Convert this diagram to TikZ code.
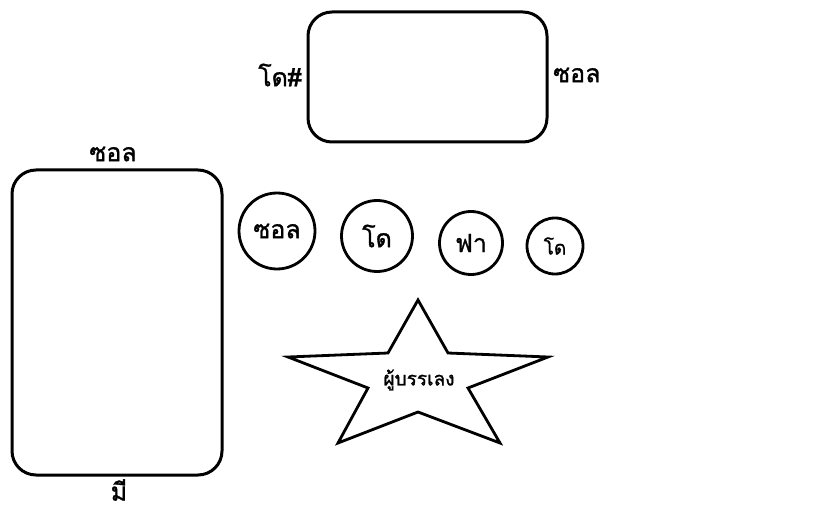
\documentclass[tikz,border=0pt]{standalone}
\usepackage{fontspec}
\newfontfamily\thaifont[Script=Thai,FakeBold=1.3]{Loma}
\begin{document}
\begin{tikzpicture}[x=1pt,y=-1pt,
  box/.style={draw,line width=3pt,rounded corners=24pt,inner sep=0pt},
  ring/.style={draw,circle,line width=2.8pt,inner sep=0pt,font=\thaifont\fontsize{25}{29}\selectfont},
  lbl/.style={inner sep=0pt,font=\thaifont\fontsize{25}{29}\selectfont}]
\useasboundingbox (0,0) rectangle (834,518);
\fill[white] (0,0) rectangle (834,518);
% top box
\node[box,minimum width=239pt,minimum height=130pt] (top) at (427.5,77) {};
\node[lbl,anchor=east] (topL) at (302,75) {โด\#};
\node[lbl,anchor=west] (topR) at (553,75) {ซอล};
% left box
\node[box,minimum width=210pt,minimum height=305pt] (left) at (117,322.5) {};
\node[lbl] (leftT) at (113,154) {ซอล};
\node[lbl] (leftB) at (119,490) {มี};
% circles
\node[ring,minimum size=76pt] (c1) at (277,231) {ซอล};
\node[ring,minimum size=71pt] (c2) at (377,236) {โด};
\node[ring,minimum size=63pt] (c3) at (471,243) {ฟา};
\node[ring,minimum size=56pt,font=\thaifont\fontsize{19}{23}\selectfont] (c4) at (555,246) {โด};
% star
\draw[line width=2.8pt,line join=miter]
  (418,300) -- (448,353) -- (548,357) -- (468,388) -- (500,443)
  -- (418,412) -- (338,443) -- (368,388) -- (288,357) -- (388,353) -- cycle;
\node[inner sep=0pt,font=\thaifont\fontsize{19}{23}\selectfont] (star) at (419,380) {ผู้บรรเลง};
\end{tikzpicture}
\end{document}
